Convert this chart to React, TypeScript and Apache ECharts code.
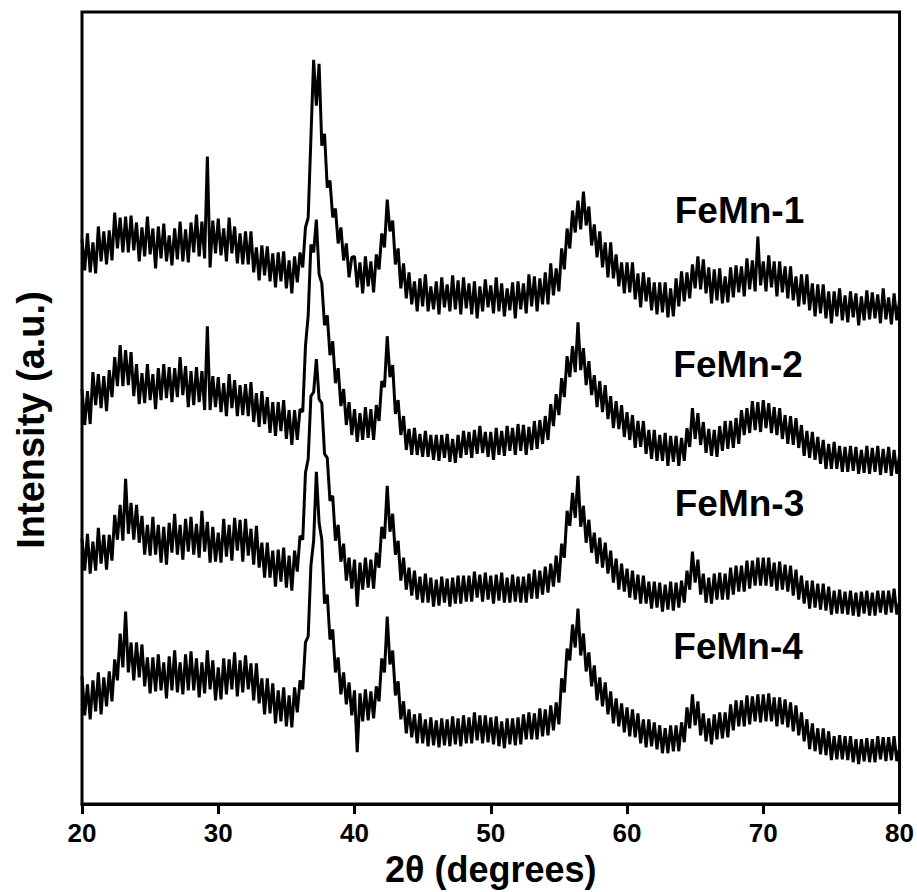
import React, { useEffect, useRef } from "react";
import * as echarts from "echarts";

// 2θ sampling grid (degrees)
const START_DEG = 20;
const STEP_DEG = 0.2;
const xTicks = [20, 30, 40, 50, 60, 70, 80];
const seriesNames = ["FeMn-1", "FeMn-2", "FeMn-3", "FeMn-4"];
const FONT = '"Liberation Sans", Arial, Helvetica, sans-serif';

// Intensities (a.u., stacked with vertical offsets as in the figure), 20°–80° every 0.2°
const feMn1 = [
  566, 535, 572, 533, 563, 532, 579, 544, 574, 541,
  575, 545, 593, 557, 588, 553, 589, 553, 590, 555,
  583, 544, 578, 549, 589, 551, 577, 537, 579, 547,
  582, 544, 570, 540, 577, 546, 584, 544, 576, 543,
  583, 553, 591, 549, 584, 547, 649, 538, 585, 552,
  587, 550, 577, 544, 588, 552, 579, 542, 572, 541,
  574, 541, 574, 533, 558, 525, 560, 530, 559, 524,
  552, 518, 553, 524, 554, 517, 545, 512, 549, 523,
  553, 538, 578, 588, 668, 746, 700, 742, 660, 672,
  618, 625, 588, 597, 562, 578, 545, 562, 528, 548,
  549, 518, 543, 512, 549, 519, 544, 513, 551, 536,
  572, 558, 606, 574, 585, 541, 557, 517, 542, 507,
  533, 501, 524, 494, 527, 499, 531, 494, 519, 496,
  524, 491, 528, 498, 521, 494, 530, 496, 525, 491,
  528, 497, 522, 491, 524, 487, 519, 494, 526, 498,
  520, 492, 528, 494, 522, 489, 517, 495, 523, 487,
  524, 496, 522, 492, 531, 499, 529, 494, 527, 501,
  533, 501, 542, 510, 537, 514, 557, 536, 577, 557,
  595, 573, 605, 576, 614, 580, 599, 560, 581, 548,
  574, 538, 563, 528, 563, 527, 551, 519, 543, 512,
  543, 513, 543, 506, 532, 498, 533, 504, 528, 495,
  523, 491, 523, 493, 523, 488, 517, 489, 527, 499,
  534, 504, 533, 507, 541, 517, 549, 516, 546, 512,
  538, 502, 536, 505, 537, 502, 529, 503, 538, 508,
  540, 513, 539, 509, 547, 516, 545, 514, 569, 520,
  544, 514, 550, 518, 544, 509, 544, 513, 539, 507,
  539, 505, 529, 499, 531, 501, 531, 495, 522, 489,
  521, 492, 521, 487, 514, 482, 514, 489, 517, 485,
  510, 483, 514, 488, 512, 480, 509, 485, 515, 486,
  513, 487, 511, 482, 517, 486, 508, 481, 512, 485,
  505,
];

const feMn2 = [
  416, 380, 414, 381, 433, 400, 431, 397, 429, 394,
  435, 408, 448, 419, 460, 419, 455, 420, 453, 409,
  441, 401, 432, 402, 441, 405, 431, 396, 437, 405,
  441, 407, 438, 403, 437, 408, 448, 410, 439, 398,
  434, 400, 438, 403, 434, 395, 479, 395, 429, 398,
  428, 393, 422, 389, 431, 397, 425, 389, 420, 390,
  421, 389, 423, 383, 412, 378, 414, 381, 408, 372,
  403, 369, 403, 374, 405, 366, 395, 360, 395, 365,
  396, 393, 459, 490, 561, 553, 586, 531, 522, 480,
  490, 450, 464, 422, 437, 399, 416, 380, 403, 370,
  396, 363, 392, 365, 398, 367, 396, 365, 400, 384,
  424, 418, 469, 428, 440, 391, 405, 370, 389, 355,
  376, 350, 377, 350, 371, 348, 374, 348, 370, 345,
  370, 344, 370, 347, 371, 343, 366, 342, 370, 347,
  374, 350, 373, 347, 375, 351, 379, 352, 373, 348,
  373, 345, 377, 350, 374, 349, 379, 354, 377, 350,
  381, 354, 380, 350, 378, 355, 384, 356, 385, 361,
  389, 365, 401, 379, 411, 390, 427, 408, 449, 428,
  459, 433, 483, 435, 457, 420, 444, 410, 430, 398,
  424, 393, 420, 386, 409, 377, 404, 376, 400, 368,
  393, 365, 390, 357, 384, 358, 384, 351, 375, 346,
  375, 344, 370, 344, 372, 339, 369, 343, 369, 339,
  367, 344, 377, 358, 397, 366, 392, 360, 383, 352,
  376, 349, 375, 348, 379, 354, 384, 356, 384, 357,
  387, 361, 395, 370, 397, 372, 404, 375, 403, 373,
  405, 377, 402, 372, 398, 370, 397, 366, 390, 361,
  389, 360, 387, 357, 380, 349, 374, 347, 373, 345,
  368, 341, 365, 336, 361, 336, 363, 336, 359, 333,
  358, 333, 359, 334, 358, 331, 355, 332, 359, 331,
  357, 333, 359, 330, 356, 332, 358, 329, 355, 331,
  350,
];

const feMn3 = [
  266, 234, 271, 231, 263, 234, 277, 241, 270, 235,
  270, 244, 290, 265, 300, 264, 326, 271, 302, 265,
  300, 262, 289, 250, 280, 249, 288, 250, 280, 242,
  278, 240, 282, 252, 291, 250, 280, 245, 286, 253,
  288, 250, 281, 247, 294, 253, 283, 242, 278, 243,
  272, 242, 286, 248, 280, 244, 287, 254, 285, 243,
  286, 249, 276, 240, 279, 237, 262, 227, 262, 227,
  254, 218, 255, 223, 257, 217, 249, 214, 254, 233,
  269, 265, 332, 346, 409, 413, 446, 406, 402, 351,
  347, 304, 309, 264, 280, 243, 261, 224, 247, 216,
  245, 198, 242, 215, 247, 217, 245, 216, 252, 237,
  278, 266, 319, 273, 291, 250, 264, 224, 247, 215,
  237, 209, 234, 205, 228, 202, 231, 202, 227, 198,
  225, 199, 228, 202, 226, 198, 227, 201, 229, 201,
  229, 203, 229, 203, 233, 207, 230, 203, 232, 205,
  229, 201, 230, 204, 232, 202, 227, 202, 230, 203,
  228, 202, 228, 202, 231, 206, 235, 206, 234, 210,
  238, 212, 241, 218, 249, 222, 261, 247, 294, 279,
  312, 287, 329, 278, 299, 262, 285, 252, 272, 241,
  267, 237, 262, 231, 254, 222, 246, 215, 241, 213,
  236, 207, 234, 205, 230, 201, 229, 201, 223, 196,
  223, 197, 222, 193, 220, 195, 223, 194, 222, 197,
  224, 202, 234, 215, 253, 222, 245, 210, 231, 202,
  227, 201, 231, 205, 232, 205, 231, 205, 237, 210,
  239, 213, 239, 213, 244, 216, 244, 219, 247, 219,
  247, 219, 247, 218, 242, 214, 243, 215, 240, 213,
  239, 209, 235, 205, 229, 201, 224, 196, 224, 197,
  221, 195, 221, 194, 218, 190, 214, 191, 215, 191,
  213, 190, 214, 189, 212, 188, 213, 191, 214, 189,
  212, 189, 214, 192, 214, 190, 214, 192, 216, 190,
  203,
];

const feMn4 = [
  128, 89, 120, 85, 124, 93, 132, 90, 127, 98,
  133, 103, 145, 124, 171, 137, 193, 132, 162, 124,
  162, 127, 160, 118, 147, 111, 147, 113, 150, 114,
  142, 106, 148, 114, 154, 112, 142, 110, 150, 114,
  153, 114, 146, 107, 142, 111, 154, 115, 144, 104,
  137, 105, 146, 110, 145, 115, 152, 108, 144, 112,
  149, 115, 141, 104, 141, 101, 126, 90, 126, 91,
  121, 81, 114, 83, 117, 78, 109, 77, 117, 92,
  124, 115, 162, 168, 239, 264, 333, 282, 265, 201,
  210, 165, 175, 132, 147, 110, 132, 100, 122, 89,
  114, 52, 111, 83, 115, 84, 113, 86, 118, 103,
  146, 132, 188, 140, 154, 109, 123, 85, 103, 71,
  95, 67, 90, 61, 91, 61, 85, 58, 87, 59,
  84, 57, 86, 59, 85, 58, 88, 60, 86, 58,
  89, 61, 87, 61, 92, 64, 89, 61, 89, 62,
  87, 60, 88, 58, 83, 56, 86, 60, 86, 59,
  87, 60, 90, 65, 92, 65, 91, 65, 96, 68,
  95, 69, 99, 74, 102, 80, 126, 112, 156, 144,
  180, 157, 196, 149, 171, 133, 152, 118, 139, 104,
  127, 98, 122, 90, 113, 81, 106, 78, 101, 72,
  97, 68, 95, 67, 91, 61, 85, 57, 85, 58,
  82, 55, 79, 51, 76, 51, 79, 53, 79, 53,
  82, 62, 97, 76, 110, 79, 103, 69, 91, 63,
  86, 60, 90, 65, 92, 66, 92, 67, 100, 74,
  104, 78, 104, 78, 109, 80, 108, 83, 110, 82,
  110, 83, 111, 83, 107, 78, 107, 80, 105, 77,
  102, 73, 99, 69, 92, 63, 85, 55, 81, 53,
  76, 50, 76, 49, 73, 44, 68, 45, 69, 45,
  68, 44, 68, 42, 65, 40, 65, 43, 66, 42,
  65, 42, 68, 45, 67, 43, 67, 44, 68, 43,
  56,
];

const allSeries = [feMn1, feMn2, feMn3, feMn4];
// label anchor: [2θ, intensity] where each sample name starts
const labelDeg = [63.5, 63.4, 63.5, 63.4];
const labelIntensity = [595, 441, 301, 158];

export default function App() {
  const ref = useRef<HTMLDivElement>(null);

  useEffect(() => {
    if (!ref.current) return;
    const chart = echarts.init(ref.current, null, { renderer: "svg" });
    const toPairs = (arr: number[]) =>
      arr.map((v, i) => [Number((START_DEG + i * STEP_DEG).toFixed(1)), v]);

    const lineSeries = allSeries.map((arr, k) => ({
      name: seriesNames[k],
      type: "line",
      data: toPairs(arr),
      showSymbol: false,
      symbol: "none",
      silent: true,
      lineStyle: { color: "#000", width: 3 },
      z: 3,
    }));

    const yLabel = {
      type: "text",
      x: 31,
      y: 420,
      rotation: Math.PI / 2,
      style: {
        text: "Intensity (a.u.)",
        fill: "#000",
        font: `bold 38px ${FONT}`,
        align: "center",
        verticalAlign: "middle",
        textAlign: "center",
        textVerticalAlign: "middle",
      },
    };

    chart.setOption({
      animation: false,
      backgroundColor: "#fff",
      grid: {
        left: 82,
        right: 16,
        top: 12,
        bottom: 86,
        show: true,
        borderColor: "#000",
        borderWidth: 3,
      },
      xAxis: {
        type: "value",
        min: xTicks[0],
        max: xTicks[xTicks.length - 1],
        interval: 10,
        name: "2θ (degrees)",
        nameLocation: "middle",
        nameGap: 42,
        nameTextStyle: {
          color: "#000",
          fontFamily: FONT,
          fontWeight: "bold",
          fontSize: 36,
        },
        axisLine: { show: true, lineStyle: { color: "#000", width: 3 } },
        axisTick: { show: true, inside: false, length: 10, lineStyle: { color: "#000", width: 3 } },
        axisLabel: {
          color: "#000",
          fontFamily: FONT,
          fontWeight: "bold",
          fontSize: 26,
          margin: 16,
        },
        splitLine: { show: false },
      },
      yAxis: {
        type: "value",
        min: 0,
        max: 794,
        axisLine: { show: false },
        axisTick: { show: false },
        axisLabel: { show: false },
        splitLine: { show: false },
      },
      graphic: [yLabel],
      series: lineSeries,
    });

    const nameTexts = seriesNames.map((n, k) => {
      const [px, py] = chart.convertToPixel({ gridIndex: 0 }, [labelDeg[k], labelIntensity[k]]) as number[];
      return {
        type: "text",
        x: px,
        y: py,
        z: 10,
        style: {
          text: n,
          fill: "#000",
          font: `bold 37px ${FONT}`,
          align: "left",
          verticalAlign: "middle",
          textAlign: "left",
          textVerticalAlign: "middle",
        },
      };
    });
    chart.setOption({ graphic: [yLabel, ...nameTexts] });

    return () => chart.dispose();
  }, []);

  return (
    <div
      ref={ref}
      style={{ position: "fixed", left: 0, top: 0, width: 917, height: 892, background: "#fff" }}
    />
  );
}
